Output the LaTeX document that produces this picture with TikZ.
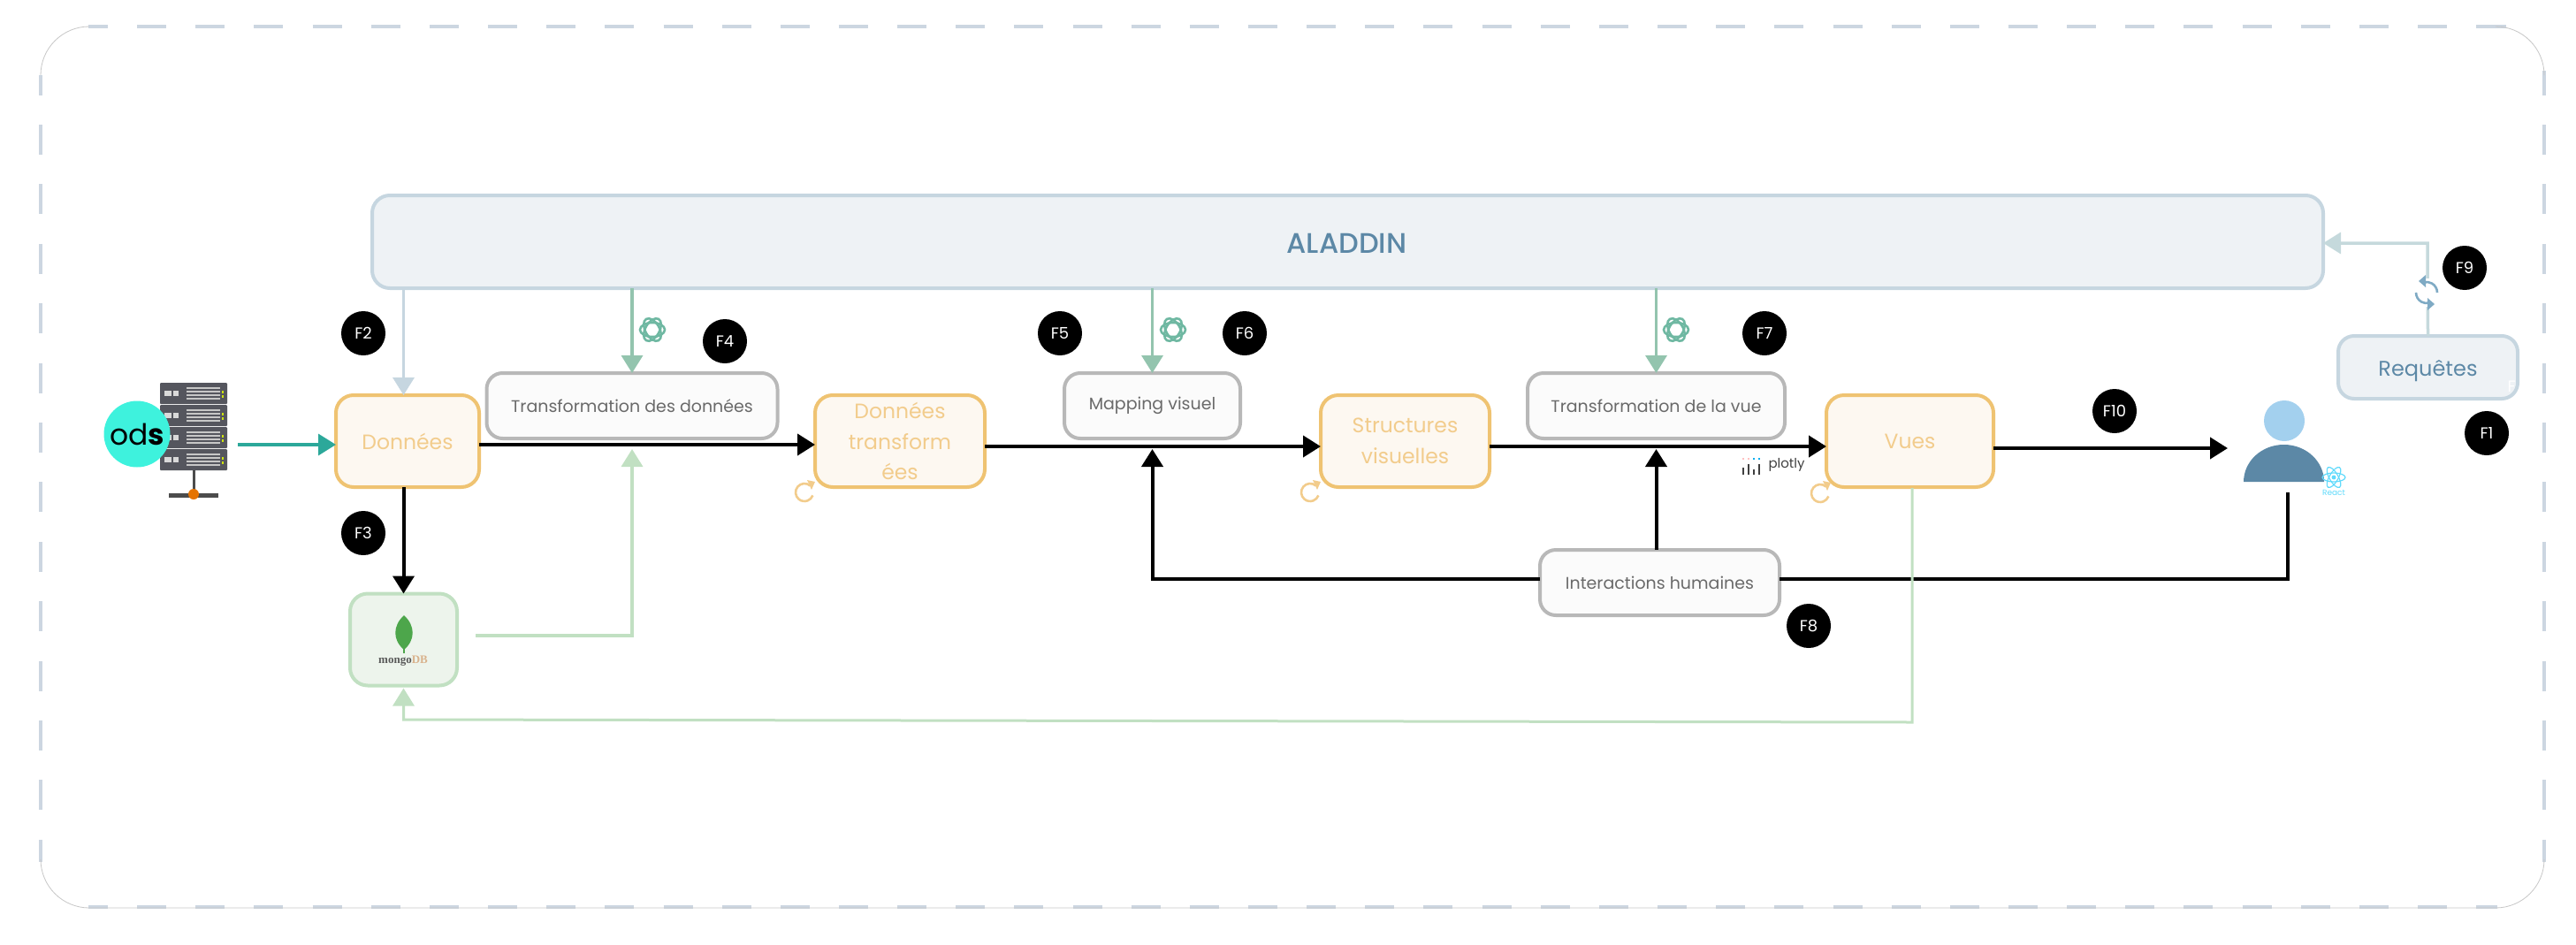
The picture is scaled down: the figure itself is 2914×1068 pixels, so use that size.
\documentclass[tikz,border=0pt]{standalone}
\usepackage{fontspec}
\setmainfont{Poppins}
\newfontfamily\popmed{Poppins Medium}
\newfontfamily\serifmongo{Liberation Serif}
\usetikzlibrary{arrows.meta,positioning}
\definecolor{orl}{HTML}{EFC372}
\definecolor{orf}{HTML}{FDF8F1}
\definecolor{ort}{HTML}{F2CC8C}
\definecolor{grl}{HTML}{B8B8B8}
\definecolor{grf}{HTML}{FBFBFB}
\definecolor{grt}{HTML}{6A6A6A}
\definecolor{all}{HTML}{C6D6E0}
\definecolor{alf}{HTML}{EEF2F5}
\definecolor{alt}{HTML}{5C88A6}
\definecolor{mgl}{HTML}{C1E0C2}
\definecolor{mgf}{HTML}{EDF4EC}
\definecolor{oaig}{HTML}{93C4AE}
\definecolor{oaii}{HTML}{6FB8A2}
\definecolor{tealc}{HTML}{2CA89A}
\definecolor{reqc}{HTML}{C5D9DC}
\definecolor{dashc}{HTML}{CCD6E1}
\definecolor{odsc}{HTML}{3EF2DD}
\definecolor{leafc}{HTML}{4DA64B}
\definecolor{headc}{HTML}{A3D0EE}
\definecolor{reactc}{HTML}{61DAFB}
\definecolor{srvc}{HTML}{55565E}
\definecolor{syncc}{HTML}{7FAAC4}
\tikzset{
  base/.style={inner sep=0pt,outer sep=0pt,line width=4pt,align=center},
  orbox/.style={base,draw=orl,fill=orf,text=ort,rounded corners=20pt,minimum height=104pt,font=\fontsize{23.5}{34.5}\selectfont},
  grbox/.style={base,draw=grl,fill=grf,text=grt,rounded corners=18pt,minimum height=74pt,font=\fontsize{19}{24}\selectfont},
  albox/.style={base,draw=all,fill=alf,text=alt,rounded corners=20pt},
  badge/.style={circle,fill=black,text=white,minimum size=50pt,inner sep=0pt,font=\fontsize{18}{20}\selectfont},
  head/.style={-{Triangle[length=20pt,width=24pt]}},
  blk/.style={draw=black,line width=4pt,head},
  grn/.style={draw=mgl,line width=3.5pt},
  hdash/.style={dashc,line width=4pt,dash pattern=on 33pt off 33.15pt},
  vdash/.style={dashc,line width=4pt,dash pattern=on 34pt off 33.4pt},
  thinedge/.style={black!22,line width=.8pt},
}
\newcommand{\oaicon}[2]{\begin{scope}[shift={(#1,#2)},y=1pt]
  \foreach \a in {0,60,120}{\draw[oaii,line width=2.6pt,rotate=\a] (0,0) ellipse (14pt and 8pt);}
\end{scope}}
\newcommand{\reloadicon}[2]{\begin{scope}[shift={(#1,#2)},y=1pt]
  \draw[ort,line width=2.6pt] (50:10pt) arc (50:340:10pt);
  \fill[ort] (3,14)--(12,12)--(8,3)--cycle;
\end{scope}}
\begin{document}
\begin{tikzpicture}[x=1pt,y=-1pt]
\useasboundingbox (0,0) rectangle (2914,1068);
% outer frame
\draw[hdash] (89,30) -- (2838,30);
\draw[vdash] (46,73.6) -- (46,985);
\draw[vdash] (2878,73.6) -- (2878,985);
\draw[hdash] (89,1026) -- (2838,1026);
\fill[white] (42,85) rectangle (100,26);
\fill[white] (42,975) rectangle (100,1030);
\fill[white] (2825,26) rectangle (2882,80);
\fill[white] (2825,975) rectangle (2882,1030);
\draw[hdash,dash phase=11pt] (100,30) -- (105,30);
\draw[hdash,dash phase=23pt] (2825,30) -- (2835,30);
\draw[hdash,dash phase=11pt] (100,1026) -- (105,1026);
\draw[vdash,dash phase=11pt] (46,85) -- (46,90);
\draw[vdash,dash phase=11pt] (2878,85) -- (2878,90);
\draw[thinedge] (46,85) arc[start angle=180,end angle=90,radius=55pt];
\draw[thinedge] (2823,30) arc[start angle=90,end angle=0,radius=55pt];
\draw[thinedge] (46,972) arc[start angle=180,end angle=270,radius=55pt] -- (2823,1027) arc[start angle=270,end angle=360,radius=55pt];

% main nodes
\node[albox,minimum width=2207pt,minimum height=105pt,font=\fontsize{32}{36}\selectfont\popmed] (ala) at (1524.5,273.5) {\hspace{-2pt}\raisebox{-12.5pt}[0pt][0pt]{ALADDIN}};
\node[orbox,minimum width=162pt] (don) at (461,499) {Données};
\node[orbox,minimum width=192pt] (dt) at (1018,499) {Données\\transform\\ées};
\node[orbox,minimum width=191pt] (sv) at (1589.5,499) {Structures\\visuelles};
\node[orbox,minimum width=189pt] (vues) at (2160.5,499) {Vues};
\node[grbox,minimum width=329pt] (tr) at (715,459) {\raisebox{-1pt}{Transformation des données}};
\node[grbox,minimum width=199pt] (map) at (1303.5,459) {\raisebox{-1pt}{Mapping visuel}};
\node[grbox,minimum width=291pt] (tv) at (1873.5,459) {\raisebox{-1pt}{Transformation de la vue}};
\node[grbox,minimum width=271pt] (ih) at (1877.5,659) {\raisebox{-1pt}{Interactions humaines}};
\node[base,draw=mgl,fill=mgf,rounded corners=20pt,minimum width=121pt,minimum height=104pt] (mongo) at (456.5,723.5) {};
\node[albox,minimum width=203pt,minimum height=71pt,rounded corners=18pt,font=\fontsize{24}{30}\selectfont] (req) at (2746.5,415.5) {\raisebox{-10pt}[0pt][0pt]{Requêtes}};
\node[inner sep=0pt,font=\fontsize{18}{20}\selectfont,text=white] (fghost) at (2841,437) {F};
\node[inner sep=0pt,minimum width=76pt,minimum height=98pt] (srv) at (219,482) {};
\node[inner sep=0pt,minimum width=91pt,minimum height=92pt] (user) at (2584,499) {};

% helper coordinates
\coordinate (ya) at (0,503);
\coordinate (yb) at (0,505);
\coordinate (yc) at (0,507);
\coordinate (yt) at (0,508);
\coordinate (yl) at (0,655);
\coordinate (srvout) at (269,503);
\coordinate (mout) at (538,719);
\coordinate (userb) at (2588,557);
\coordinate (reqe) at (2746,275);
\coordinate (userin) at (2520,507);
\coordinate (vuesb) at (2163,552);
\coordinate (corner) at (2163,817);
\coordinate (cornerm) at (456.5,814);

% connectors
\draw[line width=3.5pt,draw=tealc,-{Triangle[length=20pt,width=24pt]}] (srvout) -- (don.west |- srvout);
\draw[draw=all,line width=3.5pt,head] (mongo.north |- ala.south) -- (mongo.north |- don.north);
\draw[draw=oaig,line width=3.5pt,head] (tr.north |- ala.south) -- (tr.north);
\draw[draw=oaig,line width=3.5pt,head] (map.north |- ala.south) -- (map.north);
\draw[draw=oaig,line width=3.5pt,head] (tv.north |- ala.south) -- (tv.north);
\draw[grn,head] (mout) -- (tr.south |- mout) -- (tr.south |- yt);
\draw[blk] (mongo.north |- don.south) -- (mongo.north);
\draw[blk] (don.east |- ya) -- (dt.west |- ya);
\draw[blk] (dt.east |- yb) -- (sv.west |- yb);
\draw[blk] (sv.east |- yb) -- (vues.west |- yb);
\draw[blk] (vues.east |- yc) -- (userin);
\draw[blk] (ih.west |- yl) -- (map.south |- yl) -- (map.south |- yt);
\draw[blk] (tv.south |- ih.north) -- (tv.south |- yt);
\draw[draw=black,line width=4pt] (userb) -- (userb |- yl) -- (ih.east |- yl);
\draw[grn,line width=3pt,head] (vuesb) -- (corner) -- (cornerm) -- ([yshift=-3pt]mongo.south);
\draw[draw=reqc,line width=3.5pt,head] (req.north) -- (reqe) -- (ala.east |- reqe);

% badges
\node[badge] (f1) at (2813,490) {F1};
\node[badge] (f2) at (411,377) {F2};
\node[badge] (f3) at (411,603) {F3};
\node[badge] (f4) at (820,386) {F4};
\node[badge] (f5) at (1199,377) {F5};
\node[badge] (f6) at (1408,377) {F6};
\node[badge] (f7) at (1996,377) {F7};
\node[badge] (f8) at (2046,708) {F8};
\node[badge] (f9) at (2788,303) {F9};
\node[badge] (f10) at (2392,465) {F10};

% icons
\oaicon{738}{373}
\oaicon{1327}{373}
\oaicon{1896}{373}
\reloadicon{910}{557}
\reloadicon{1482}{557}
\reloadicon{2059}{558}

% sync icon
\begin{scope}[shift={(2745,331)},y=1pt]
  \fill[white] (-14,-16) rectangle (14,16);
  \draw[syncc,line width=2.6pt] (0:12pt) arc (0:105:12pt);
  \draw[syncc,line width=2.6pt] (180:12pt) arc (180:285:12pt);
  \fill[syncc] (-9,13)--(-1,20)--(-1,6)--cycle;
  \fill[syncc] (9,-13)--(1,-20)--(1,-6)--cycle;
\end{scope}

% server
\foreach \y in {433,458,483,508}{
  \fill[srvc,rounded corners=1pt] (181,\y) rectangle (257,\y+24);
  \fill[white!85!black] (186,\y+9) rectangle (194,\y+15);
  \fill[white!85!black] (196,\y+9) rectangle (202,\y+15);
  \foreach \s in {5,9,13,17}{\fill[white!78!black] (211,\y+\s) rectangle (249,\y+\s+2);}
  \fill[yellow!80!green] (251,\y+9) rectangle (253,\y+12);
  \fill[yellow!80!green] (251,\y+14) rectangle (253,\y+17);
}
\draw[black!70,line width=3pt] (219,532) -- (219,560);
\draw[black!70,line width=5pt] (191,560) -- (247,560);
\fill[orange!90!black] (219,559) circle (6pt);
\node[circle,fill=odsc,minimum size=75pt,inner sep=0pt,font=\fontsize{33}{33}\selectfont] (ods) at (155,491) {od\textbf{s}};

% mongo leaf
\fill[leafc] (457,696) .. controls (470,708) and (470,724) .. (457,735) .. controls (444,724) and (444,708) .. (457,696) -- cycle;
\draw[leafc,line width=1.2pt] (457,733) -- (457,739);
\node[inner sep=0pt,font=\serifmongo\fontsize{13}{13}\selectfont\bfseries,text=black!65] (mtxt) at (456,748) {mongo\textcolor{brown!60}{DB}};

% plotly
\foreach \x/\c in {1972/pink,1978/pink,1984/cyan,1990/cyan}{\fill[\c] (\x-1,518) rectangle (\x+1,520);}
\foreach \x/\h in {1972/8,1978/12,1984/6,1990/12}{\fill[black!75] (\x-1.3,537-\h) rectangle (\x+1.3,537);}
\node[inner sep=0pt,font=\fontsize{15}{15}\selectfont,text=black!75] (plotly) at (2021,526) {plotly};

% user
\fill[alt] (2538,545) arc[start angle=180,end angle=0,x radius=45.5pt,y radius=42pt] -- cycle;
\fill[headc] (2584,476) circle (23pt);

% react
\begin{scope}[shift={(2640,540)},y=1pt]
  \foreach \a in {0,60,120}{\draw[reactc,line width=1.2pt,rotate=\a] (0,0) ellipse (13pt and 5pt);}
  \fill[reactc] (0,0) circle (2.5pt);
\end{scope}
\node[inner sep=0pt,font=\fontsize{9}{9}\selectfont,text=reactc] (rct) at (2640,557) {React};
\end{tikzpicture}
\end{document}
